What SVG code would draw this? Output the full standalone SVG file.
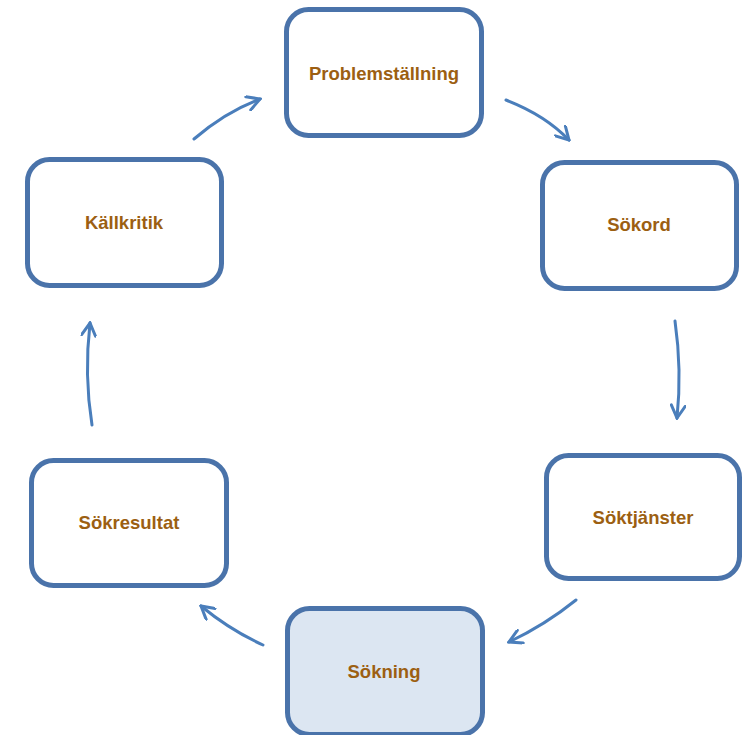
<svg xmlns="http://www.w3.org/2000/svg" width="749" height="735" viewBox="0 0 749 735">
<style>
.box{fill:#ffffff;stroke:#4a73aa;stroke-width:5}
.hl{fill:#dce6f2}
.lbl{font-family:"Liberation Sans",Arial,sans-serif;font-weight:bold;font-size:18.5px;fill:#9c5f12;text-anchor:middle;dominant-baseline:central}
.arr{fill:none;stroke:#4a7ebb;stroke-width:3;stroke-linecap:round;marker-end:url(#ah)}
</style>
<defs>
<marker id="ah" viewBox="0 0 16 16" refX="14" refY="8" markerWidth="16" markerHeight="16" markerUnits="userSpaceOnUse" orient="auto">
<polyline points="1.5,1 14,8 1.5,15" fill="none" stroke="#4a7ebb" stroke-width="3" stroke-linecap="round"/>
</marker>
</defs>
<g id="connectors">
<path class="arr" d="M506,100 Q545,115 569,140"/>
<path class="arr" d="M675,321 Q682,370 677,418"/>
<path class="arr" d="M576,600 Q545,625 509,642"/>
<path class="arr" d="M263,645 Q230,630 201,606"/>
<path class="arr" d="M92,425 Q84,375 90,323"/>
<path class="arr" d="M194,139 Q225,112 260,99"/>
</g>
<g id="node-problemstallning">
<rect class="box" x="286.5" y="9.5" width="195" height="126" rx="22"/>
<text class="lbl" x="384" y="73">Problemställning</text>
</g>
<g id="node-sokord">
<rect class="box" x="542.5" y="162.5" width="194" height="126" rx="22"/>
<text class="lbl" x="639" y="224">Sökord</text>
</g>
<g id="node-soktjanster">
<rect class="box" x="546.5" y="455.5" width="193" height="123" rx="22"/>
<text class="lbl" x="643" y="517">Söktjänster</text>
</g>
<g id="node-sokning">
<rect class="box hl" x="287.5" y="608.5" width="195" height="126" rx="22"/>
<text class="lbl" x="384" y="671">Sökning</text>
</g>
<g id="node-sokresultat">
<rect class="box" x="31.5" y="460.5" width="195" height="125" rx="22"/>
<text class="lbl" x="129" y="522">Sökresultat</text>
</g>
<g id="node-kallkritik">
<rect class="box" x="27.5" y="159.5" width="194" height="126" rx="22"/>
<text class="lbl" x="124" y="222">Källkritik</text>
</g>
</svg>
